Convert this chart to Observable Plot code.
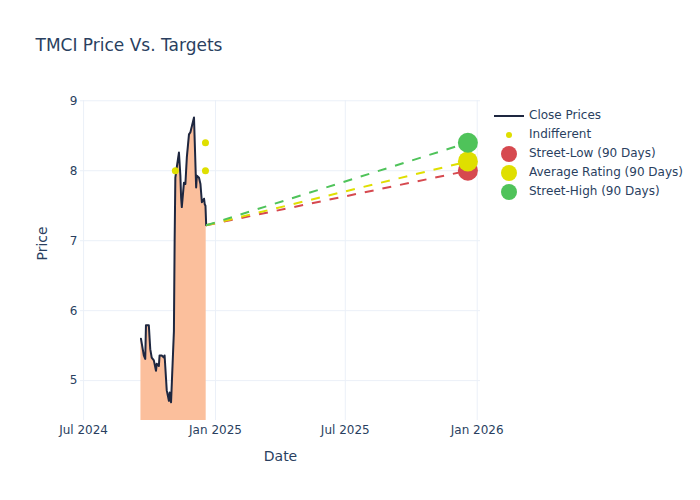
<!DOCTYPE html>
<html>
<head>
<meta charset="utf-8">
<script src="https://cdn.jsdelivr.net/npm/d3@7"></script>
<script src="https://cdn.jsdelivr.net/npm/@observablehq/plot@0.6"></script>
<style>
  html, body { margin: 0; padding: 0; background: #fff; }
  #wrap { position: relative; width: 700px; height: 500px; font-family: "DejaVu Sans", sans-serif; color: #2a3f5f; }
  #legend { position: absolute; left: 493px; top: 106px; font-size: 12px; }
  .row { position: relative; height: 19px; line-height: 19px; white-space: nowrap; }
  .row svg { position: absolute; left: 0; top: 0; }
  .row span { position: absolute; left: 36px; top: 0; }
</style>
</head>
<body>
<div id="wrap"><div id="chart"></div><div id="legend"></div></div>
<script>
// ---- data ----
const priceDates = ["2024-09-19","2024-09-23","2024-09-25","2024-09-26","2024-09-30","2024-10-02","2024-10-04","2024-10-07","2024-10-10","2024-10-11","2024-10-14","2024-10-15","2024-10-18","2024-10-21","2024-10-22","2024-10-25","2024-10-28","2024-10-29","2024-10-31","2024-11-04","2024-11-05","2024-11-06","2024-11-08","2024-11-11","2024-11-13","2024-11-14","2024-11-15","2024-11-18","2024-11-20","2024-11-22","2024-11-25","2024-11-27","2024-12-02","2024-12-03","2024-12-05","2024-12-06","2024-12-09","2024-12-11","2024-12-13","2024-12-16","2024-12-17","2024-12-18","2024-12-19"];
const closePrices = [5.60,5.36,5.31,5.79,5.79,5.45,5.33,5.29,5.14,5.24,5.21,5.36,5.36,5.33,5.36,4.86,4.71,4.83,4.69,5.71,7.0,7.9,8.05,8.26,7.93,7.62,7.48,7.83,7.81,8.19,8.52,8.55,8.76,8.43,7.76,7.93,7.90,7.81,7.55,7.60,7.52,7.50,7.22];
const indifferentDates = ["2024-11-06","2024-12-18","2024-12-18"];
const indifferentTargets = [8.0, 8.4, 8.0];
const targetNames = ["Street-Low (90 Days)", "Average Rating (90 Days)", "Street-High (90 Days)"];
const targetValues = [8.0, 8.133, 8.4];
const targetColors = ["#d6494f", "#dfdf00", "#4fc35a"];
const targetDate = "2025-12-19";
const xTicks = ["2024-07-01","2025-01-01","2025-07-01","2026-01-01"];
const yTicks = [5, 6, 7, 8, 9];
const title = "TMCI Price Vs. Targets";

// ---- build ----
const prices = priceDates.map((d, i) => ({date: new Date(d), close: closePrices[i]}));
const indiff = indifferentDates.map((d, i) => ({date: new Date(d), value: indifferentTargets[i]}));
const last = prices[prices.length - 1];
const targets = targetNames.map((n, i) => ({
  name: n, value: targetValues[i], color: targetColors[i],
  x1: last.date, y1: last.close, x2: new Date(targetDate), y2: targetValues[i]
}));
const yMin = 4.43, yMax = 9.004;
const fmt = d3.utcFormat("%b %Y");
const lineColor = "#1e2740";
const areaColor = "#fbbf9c";
const indColor = "#dfdf00";

const chart = Plot.plot({
  width: 700, height: 500,
  marginLeft: 80, marginRight: 220, marginTop: 100, marginBottom: 80,
  style: {fontFamily: "DejaVu Sans, sans-serif", fontSize: "12px", color: "#2a3f5f", background: "#fff"},
  x: {type: "utc", domain: [new Date("2024-06-26T17:00Z"), new Date("2026-01-05T14:00Z")]},
  y: {domain: [yMin, yMax]},
  marks: [
    Plot.gridX(xTicks.map(d => new Date(d)), {stroke: "#ebf0f8", strokeOpacity: 1, strokeWidth: 1}),
    Plot.gridY(yTicks, {stroke: "#ebf0f8", strokeOpacity: 1, strokeWidth: 1}),
    Plot.axisX(xTicks.map(d => new Date(d)), {tickFormat: fmt, tickSize: 0, tickPadding: 5, label: null, fill: "#2a3f5f", fontSize: 12}),
    Plot.axisY(yTicks, {tickFormat: d => String(d), tickSize: 0, tickPadding: 3, label: null, fill: "#2a3f5f", fontSize: 12}),
    Plot.areaY(prices, {x: "date", y1: yMin, y2: "close", fill: areaColor, fillOpacity: 1}),
    Plot.line(prices, {x: "date", y: "close", stroke: lineColor, strokeWidth: 2}),
    Plot.dot(indiff, {x: "date", y: "value", r: 3.5, fill: indColor, stroke: "none"}),
    Plot.link(targets, {x1: "x1", y1: "y1", x2: "x2", y2: "y2", stroke: "color", strokeWidth: 2, strokeDasharray: "9,9"}),
    Plot.dot(targets, {x: "x2", y: "y2", r: 10, fill: "color", stroke: "none"}),
    Plot.text([title], {frameAnchor: "top-left", dx: -45, dy: -62, textAnchor: "start", fontSize: 17, fill: "#2a3f5f"}),
    Plot.text(["Date"], {frameAnchor: "bottom", dy: 40, fontSize: 14, fill: "#2a3f5f"}),
    Plot.text(["Price"], {frameAnchor: "left", dx: -38, rotate: -90, fontSize: 14, fill: "#2a3f5f"})
  ]
});
document.getElementById("chart").appendChild(chart);

// ---- legend ----
const legend = document.getElementById("legend");
const items = [
  {name: "Close Prices", kind: "line", color: lineColor},
  {name: "Indifferent", kind: "small", color: indColor},
  ...targets.map(t => ({name: t.name, kind: "big", color: t.color}))
];
for (const it of items) {
  const row = document.createElement("div");
  row.className = "row";
  let sym = "";
  if (it.kind === "line") sym = `<line x1="1" x2="31" y1="10" y2="10" stroke="${it.color}" stroke-width="2"/>`;
  else if (it.kind === "small") sym = `<circle cx="16" cy="10" r="3" fill="${it.color}"/>`;
  else sym = `<circle cx="16" cy="10" r="8" fill="${it.color}"/>`;
  row.innerHTML = `<svg width="34" height="19">${sym}</svg><span>${it.name}</span>`;
  legend.appendChild(row);
}
</script>
</body>
</html>
